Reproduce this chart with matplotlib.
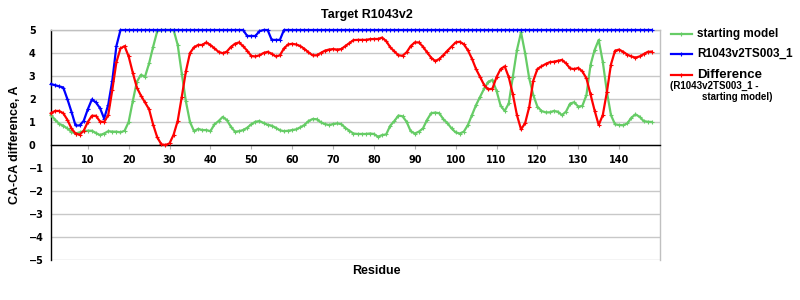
import matplotlib
matplotlib.use('Agg')
import matplotlib.pyplot as plt
from matplotlib.lines import Line2D

plt.rcParams['font.family'] = ['Liberation Sans', 'DejaVu Sans']

# Residue numbers on the x axis
residues = list(range(1, 149))

# CA-CA difference of the starting model (green)
starting_model = [
    1.30, 1.10, 0.92, 0.84, 0.72, 0.57, 0.50, 0.55, 0.60, 0.62,
    0.62, 0.52, 0.43, 0.50, 0.60, 0.58, 0.58, 0.55, 0.62, 1.00,
    1.90, 2.75, 3.05, 2.97, 3.55, 4.28, 4.95, 5.00, 5.00, 5.00,
    5.00, 4.35, 3.10, 1.90, 1.00, 0.60, 0.70, 0.65, 0.65, 0.60,
    0.90, 1.04, 1.22, 1.09, 0.80, 0.58, 0.60, 0.65, 0.75, 0.90,
    1.01, 1.04, 0.96, 0.88, 0.84, 0.75, 0.64, 0.60, 0.62, 0.65,
    0.68, 0.77, 0.87, 1.04, 1.13, 1.12, 0.99, 0.91, 0.87, 0.91,
    0.94, 0.91, 0.75, 0.62, 0.50, 0.48, 0.48, 0.48, 0.50, 0.48,
    0.36, 0.43, 0.46, 0.84, 1.04, 1.28, 1.25, 1.01, 0.60, 0.50,
    0.58, 0.72, 1.09, 1.38, 1.41, 1.38, 1.12, 0.95, 0.72, 0.55,
    0.50, 0.58, 0.87, 1.30, 1.74, 2.10, 2.46, 2.75, 2.83, 2.36,
    1.71, 1.48, 1.81, 2.97, 4.13, 4.90, 3.99, 2.90, 2.17, 1.67,
    1.48, 1.42, 1.42, 1.48, 1.45, 1.30, 1.45, 1.80, 1.86, 1.67,
    1.70, 2.17, 3.48, 4.13, 4.57, 3.62, 2.32, 1.30, 0.90, 0.87,
    0.86, 0.94, 1.19, 1.33, 1.23, 1.04, 1.01, 1.00,
]

# CA-CA difference of model R1043v2TS003_1 (blue, clipped at 5)
model_ts003 = [
    2.65, 2.60, 2.55, 2.50, 2.00, 1.45, 0.85, 0.85, 1.05, 1.55,
    1.98, 1.85, 1.60, 1.15, 1.75, 2.80, 4.30, 5.00, 5.00, 5.00,
    5.00, 5.00, 5.00, 5.00, 5.00, 5.00, 5.00, 5.00, 5.00, 5.00,
    5.00, 5.00, 5.00, 5.00, 5.00, 5.00, 5.00, 5.00, 5.00, 5.00,
    5.00, 5.00, 5.00, 5.00, 5.00, 5.00, 5.00, 5.00, 4.74, 4.74,
    4.74, 4.95, 5.00, 5.00, 4.57, 4.57, 4.57, 5.00, 5.00, 5.00,
    5.00, 5.00, 5.00, 5.00, 5.00, 5.00, 5.00, 5.00, 5.00, 5.00,
    5.00, 5.00, 5.00, 5.00, 5.00, 5.00, 5.00, 5.00, 5.00, 5.00,
    5.00, 5.00, 5.00, 5.00, 5.00, 5.00, 5.00, 5.00, 5.00, 5.00,
    5.00, 5.00, 5.00, 5.00, 5.00, 5.00, 5.00, 5.00, 5.00, 5.00,
    5.00, 5.00, 5.00, 5.00, 5.00, 5.00, 5.00, 5.00, 5.00, 5.00,
    5.00, 5.00, 5.00, 5.00, 5.00, 5.00, 5.00, 5.00, 5.00, 5.00,
    5.00, 5.00, 5.00, 5.00, 5.00, 5.00, 5.00, 5.00, 5.00, 5.00,
    5.00, 5.00, 5.00, 5.00, 5.00, 5.00, 5.00, 5.00, 5.00, 5.00,
    5.00, 5.00, 5.00, 5.00, 5.00, 5.00, 5.00, 5.00,
]

# Difference (R1043v2TS003_1 - starting model) (red)
difference = [
    1.38, 1.48, 1.48, 1.38, 1.10, 0.72, 0.50, 0.45, 0.62, 1.00,
    1.27, 1.27, 1.02, 1.00, 1.30, 2.40, 3.60, 4.20, 4.30, 3.85,
    3.15, 2.50, 2.15, 1.85, 1.55, 0.88, 0.33, 0.03, 0.00, 0.07,
    0.45, 1.05, 2.10, 3.20, 4.00, 4.25, 4.35, 4.35, 4.46, 4.35,
    4.20, 4.05, 3.99, 4.06, 4.26, 4.40, 4.46, 4.30, 4.10, 3.87,
    3.85, 3.90, 4.00, 4.05, 3.97, 3.85, 3.90, 4.20, 4.37, 4.40,
    4.37, 4.30, 4.18, 4.03, 3.90, 3.90, 4.00, 4.10, 4.15, 4.17,
    4.15, 4.17, 4.30, 4.43, 4.56, 4.57, 4.57, 4.57, 4.60, 4.61,
    4.61, 4.67, 4.52, 4.25, 4.07, 3.90, 3.88, 4.03, 4.30, 4.46,
    4.46, 4.28, 4.03, 3.80, 3.65, 3.74, 3.91, 4.10, 4.28, 4.46,
    4.49, 4.38, 4.12, 3.75, 3.30, 2.95, 2.60, 2.42, 2.45, 2.95,
    3.30, 3.42, 2.95, 2.20, 1.30, 0.68, 0.95, 1.65, 2.80, 3.30,
    3.42, 3.52, 3.60, 3.62, 3.66, 3.70, 3.55, 3.33, 3.30, 3.35,
    3.20, 2.90, 2.20, 1.50, 0.87, 1.30, 2.30, 3.50, 4.10, 4.15,
    4.05, 3.93, 3.85, 3.80, 3.85, 3.95, 4.05, 4.06,
]

x_ticks = [10, 20, 30, 40, 50, 60, 70, 80, 90, 100, 110, 120, 130, 140]
y_ticks = [-5, -4, -3, -2, -1, 0, 1, 2, 3, 4, 5]

green = '#66cc66'
blue = '#0000ff'
red = '#ff0000'

# -----------------------------------------------------------------------------

fig = plt.figure(figsize=(8, 3), dpi=100)
ax = fig.add_axes([51 / 800, 40 / 300, 609 / 800, 230 / 300])

# Series, all with small '+' markers on every residue
line_style = dict(lw=1.6, marker='+', ms=2.5, mew=0.8, clip_on=False, zorder=3)
ax.plot(residues, starting_model, color=green, **line_style)
ax.plot(residues, model_ts003, color=blue, **line_style)
ax.plot(residues, difference, color=red, **line_style)

ax.set_xlim(1, 150)
ax.set_ylim(-5, 5)

# Horizontal grid
ax.grid(axis='y', color='#c8c8c8', lw=1)
ax.set_axisbelow(True)

# Spines: black left, x axis drawn at zero
ax.spines['bottom'].set_position(('data', 0))
ax.spines['bottom'].set_color('black')
ax.spines['left'].set_color('black')
ax.spines['right'].set_color('#c0c0c0')
ax.spines['top'].set_color('#c0c0c0')
for s in ax.spines.values():
    s.set_linewidth(1)

# Ticks
ax.set_xticks(x_ticks, labels=[str(t) for t in x_ticks],
              fontweight='bold', fontsize=7, family='DejaVu Sans')
ax.tick_params(axis='x', length=3, color='#b0b0b0', pad=4)
ax.set_yticks(y_ticks, labels=[str(t).replace('-', '\u2212') for t in y_ticks],
              fontweight='bold', fontsize=7, family='DejaVu Sans', ha='left')
ax.tick_params(axis='y', length=0, pad=16)

# Axis labels and title
ax.set_ylabel('CA-CA difference, A', fontweight='bold', fontsize=9)
ax.yaxis.set_label_coords(-0.049, 0.5)
ax.set_xlabel('Residue', fontweight='bold', fontsize=9)
ax.xaxis.set_label_coords(0.534, -0.022)
fig.text(367 / 800, 1 - 15 / 300, 'Target R1043v2', ha='center', va='center',
         fontweight='bold', fontsize=9)

# Legend drawn by hand outside the plot
legend_items = [
    (green, 34, 'starting model', 8.5),
    (blue, 53.5, 'R1043v2TS003_1', 8.5),
    (red, 75, 'Difference', 9.5),
]
for color, ypx, text, size in legend_items:
    yf = 1 - ypx / 300
    fig.add_artist(Line2D([671 / 800, 681 / 800, 692 / 800], [yf, yf, yf],
                          color=color, lw=1.6, marker='+', ms=2.5, mew=0.8,
                          markevery=[1], transform=fig.transFigure))
    fig.text(697 / 800, yf, text, ha='left', va='center',
             fontweight='bold', fontsize=size)
fig.text(670 / 800, 1 - 86 / 300, '(R1043v2TS003_1 -', ha='left', va='center',
         fontweight='bold', fontsize=7)
fig.text(702 / 800, 1 - 97 / 300, 'starting model)', ha='left', va='center',
         fontweight='bold', fontsize=7)

plt.savefig('out.png', dpi=100)
